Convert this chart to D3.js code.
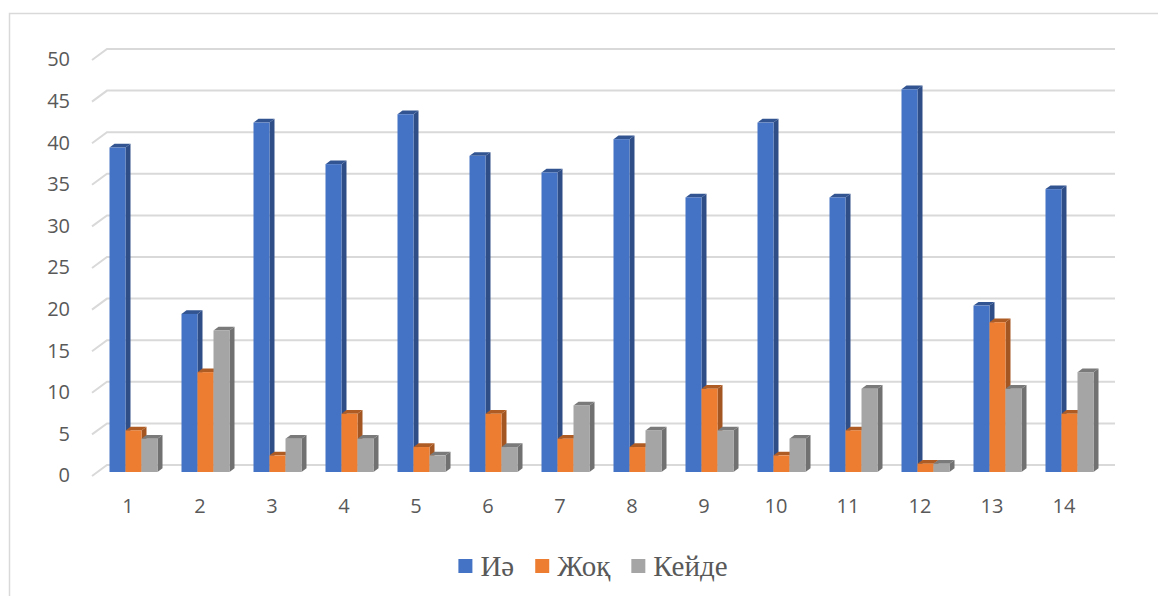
<!DOCTYPE html>
<html>
<head>
<meta charset="utf-8">
<script src="https://cdn.jsdelivr.net/npm/d3@7"></script>
<style>
  html, body { margin: 0; padding: 0; background: #fff; }
  svg { display: block; }
</style>
</head>
<body>
<svg id="chart" width="1158" height="596"></svg>
<script>
// Survey answers per question (1–14)
const categories = ["1","2","3","4","5","6","7","8","9","10","11","12","13","14"];
const seriesNames = ["Иә", "Жоқ", "Кейде"];
const yes       = [39, 19, 42, 37, 43, 38, 36, 40, 33, 42, 33, 46, 20, 34];
const no        = [5, 12, 2, 7, 3, 7, 4, 3, 10, 2, 5, 1, 18, 7];
const sometimes = [4, 17, 4, 4, 2, 3, 8, 5, 5, 4, 10, 1, 10, 12];
const yTicks = [0, 5, 10, 15, 20, 25, 30, 35, 40, 45, 50];
const colors = ["#4472C4", "#ED7D31", "#A5A5A5"];

const series = [yes, no, sometimes];

const svg = d3.select("#chart");
const textColor = "#595959";
const gridColor = "#D9D9D9";

// Chart frame
svg.append("rect")
  .attr("x", 9.5).attr("y", 13.5)
  .attr("width", 1170).attr("height", 600)
  .attr("fill", "none").attr("stroke", "#D9D9D9").attr("stroke-width", 1.5);

// Back-wall scales; the oblique 3D depth is an offset from this plane
const x = d3.scaleBand().domain(categories).range([107, 1115]);
const y = d3.scaleLinear().domain([0, 50]).range([465, 49]);

const floorDx = -15, floorDy = 11;   // back wall -> front edge of floor
const barDx = -9.5, barDy = 7;       // back wall -> front face of bars
const depthDx = 5, depthDy = -3.7;   // bar thickness in depth
const barW = 16;

// Gridlines with the short receding segment on the left
const grid = svg.append("g");
yTicks.forEach(t => {
  const yy = y(t);
  grid.append("path")
    .attr("d", `M${107 + floorDx},${yy + floorDy}L107,${yy}L${x.range()[1]},${yy}`)
    .attr("fill", "none").attr("stroke", gridColor).attr("stroke-width", 2);
});

// Y axis labels
svg.append("g").selectAll("text").data(yTicks).join("text")
  .attr("x", 70).attr("y", d => y(d) + floorDy + 1)
  .attr("text-anchor", "end").attr("dominant-baseline", "middle")
  .attr("font-family", "'Open Sans', sans-serif").attr("font-size", 20)
  .attr("fill", textColor).text(d => d);

// X axis labels at the front edge of the floor
svg.append("g").selectAll("text").data(categories).join("text")
  .attr("x", d => x(d) + x.bandwidth() / 2 + floorDx)
  .attr("y", 508)
  .attr("text-anchor", "middle").attr("dominant-baseline", "middle")
  .attr("font-family", "'Open Sans', sans-serif").attr("font-size", 20)
  .attr("fill", textColor).text(d => d);

// 3D columns: for each question draw bars left to right (side, top, front)
const bars = svg.append("g");
categories.forEach((c, ci) => {
  const groupLeft = x(c) + (x.bandwidth() - barW * series.length) / 2 + barDx;
  series.forEach((vals, si) => {
    const v = vals[ci];
    const x0 = groupLeft + si * barW;
    const x1 = x0 + barW;
    const yb = y(0) + barDy;
    const yt = y(v) + barDy;
    const base = d3.color(colors[si]);
    const side = base.darker(1.05).formatHex();
    const top = base.darker(0.85).formatHex();
    // right side face
    bars.append("path")
      .attr("d", `M${x1},${yb}L${x1},${yt}L${x1 + depthDx},${yt + depthDy}L${x1 + depthDx},${yb + depthDy}Z`)
      .attr("fill", side);
    // top face
    bars.append("path")
      .attr("d", `M${x0},${yt}L${x1},${yt}L${x1 + depthDx},${yt + depthDy}L${x0 + depthDx},${yt + depthDy}Z`)
      .attr("fill", top);
    // front face
    bars.append("rect")
      .attr("x", x0).attr("y", yt)
      .attr("width", barW).attr("height", yb - yt)
      .attr("fill", colors[si]);
  });
});

// Legend
const legend = svg.append("g");
let lx = 0;
seriesNames.forEach((name, i) => {
  const g = legend.append("g").attr("transform", `translate(${lx},0)`);
  g.append("rect").attr("x", 0).attr("y", 559).attr("width", 14).attr("height", 14)
    .attr("fill", colors[i]);
  const t = g.append("text").attr("x", 22).attr("y", 576)
    .attr("font-family", "'Liberation Serif', 'Times New Roman', serif")
    .attr("font-size", 29).attr("fill", textColor).text(name);
  lx += 22 + t.node().getComputedTextLength() + 21;
});
const legendW = lx - 21;
legend.attr("transform", `translate(${593 - legendW / 2},0)`);
</script>
</body>
</html>
